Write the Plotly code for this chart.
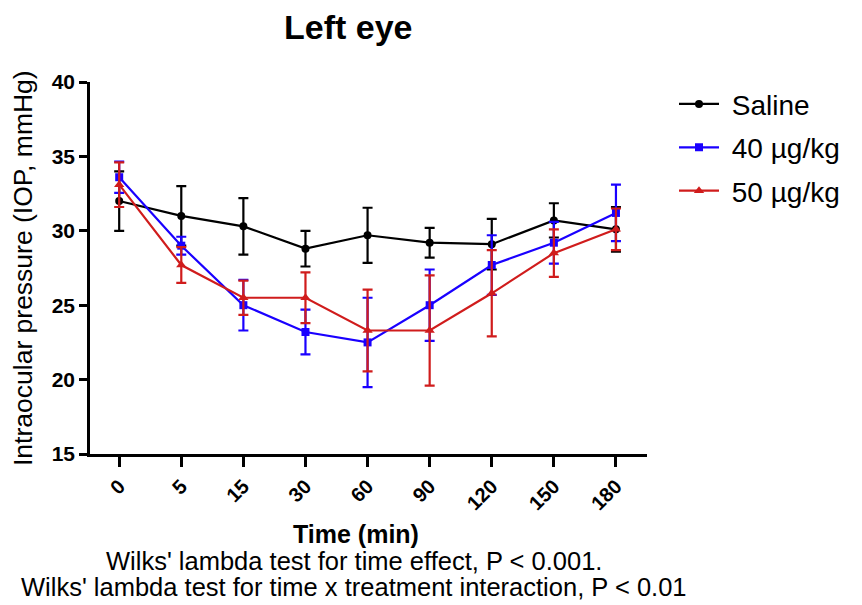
import plotly.graph_objects as go

times = ["0", "5", "15", "30", "60", "90", "120", "150", "180"]

saline = [32.0, 31.0, 30.3, 28.8, 29.7, 29.2, 29.1, 30.7, 30.1]
saline_err = [2.0, 2.0, 1.9, 1.2, 1.85, 1.0, 1.7, 1.15, 1.5]

dose40 = [33.6, 29.0, 25.0, 23.2, 22.5, 25.0, 27.7, 29.2, 31.2]
dose40_err = [1.05, 0.6, 1.7, 1.5, 3.0, 2.4, 2.0, 1.4, 1.9]

dose50 = [33.1, 27.7, 25.5, 25.5, 23.3, 23.3, 25.8, 28.5, 30.1]
dose50_err = [1.5, 1.2, 1.15, 1.7, 2.75, 3.7, 2.9, 1.6, 1.4]

series = [
    ("Saline", saline, saline_err, "#000000", "circle", 8),
    ("40 µg/kg", dose40, dose40_err, "#1a00ff", "square", 8),
    ("50 µg/kg", dose50, dose50_err, "#d01c1c", "triangle-up", 9),
]

fig = go.Figure()
for name, vals, errs, col, sym, msize in series:
    fig.add_trace(go.Scatter(
        x=times, y=vals, name="\u00a0" + name, legendgroup=name, mode="lines+markers",
        line=dict(color=col, width=2.2),
        marker=dict(color=col, symbol=sym, size=msize),
        error_y=dict(type="data", array=errs, visible=True, color=col, thickness=2.2, width=5),
    ))

font_family = "Liberation Sans, Arial, sans-serif"
fig.update_layout(
    width=862, height=605,
    margin=dict(l=90, r=215, t=82, b=151),
    paper_bgcolor="white", plot_bgcolor="white",
    font=dict(family=font_family, color="black"),
    title=dict(text="<b>Left eye</b>", xref="container", x=0.404, xanchor="center",
               yref="container", y=1 - 27 / 605, yanchor="middle",
               font=dict(size=34, color="black")),
    xaxis=dict(
        type="category", range=[-0.47, 8.5], automargin=False,
        showline=True, linecolor="black", linewidth=2.5,
        ticks="outside", ticklen=10, tickwidth=2.5, tickcolor="black",
        tickangle=-45, tickfont=dict(size=20, color="black", family=font_family),
        tickprefix="<b>", ticksuffix="</b>",
        showgrid=False, zeroline=False,
    ),
    yaxis=dict(
        range=[15, 40], tickvals=[15, 20, 25, 30, 35, 40], automargin=False,
        ticktext=["<b>15</b>", "<b>20</b>", "<b>25</b>", "<b>30</b>", "<b>35</b>", "<b>40</b>"],
        showline=True, linecolor="black", linewidth=2.5,
        ticks="outside", ticklen=8, tickwidth=2.5, tickcolor="black",
        tickfont=dict(size=21, color="black"),
        showgrid=False, zeroline=False,
    ),
    legend=dict(x=(674 - 90) / 557, y=1.0075, xanchor="left", yanchor="top",
                font=dict(size=28, color="black"), tracegroupgap=4,
                traceorder="grouped", itemwidth=40,
                itemsizing="trace", bgcolor="rgba(0,0,0,0)"),
    showlegend=True,
)

# axis titles and notes
fig.add_annotation(text="Intraocular pressure (IOP, mmHg)", textangle=-90,
                   xref="paper", yref="paper", x=(23 - 90) / 557, y=0.5,
                   xanchor="center", yanchor="middle", showarrow=False,
                   font=dict(size=26.5, color="black"))
fig.add_annotation(text="<b>Time (min)</b>",
                   xref="paper", yref="paper", x=(356 - 90) / 557, y=-(534 - 454) / 372,
                   xanchor="center", yanchor="middle", showarrow=False,
                   font=dict(size=25, color="black"))
fig.add_annotation(text="Wilks' lambda test for time effect, P < 0.001.",
                   xref="paper", yref="paper", x=(354 - 90) / 557, y=-(561 - 454) / 372,
                   xanchor="center", yanchor="middle", showarrow=False,
                   font=dict(size=25.5, color="black"))
fig.add_annotation(text="Wilks' lambda test for time x treatment interaction, P < 0.01",
                   xref="paper", yref="paper", x=(354 - 90) / 557, y=-(587 - 454) / 372,
                   xanchor="center", yanchor="middle", showarrow=False,
                   font=dict(size=25.5, color="black"))

fig.write_html("out.html", config={"displayModeBar": False},
               post_script="document.body.style.margin='0';")
